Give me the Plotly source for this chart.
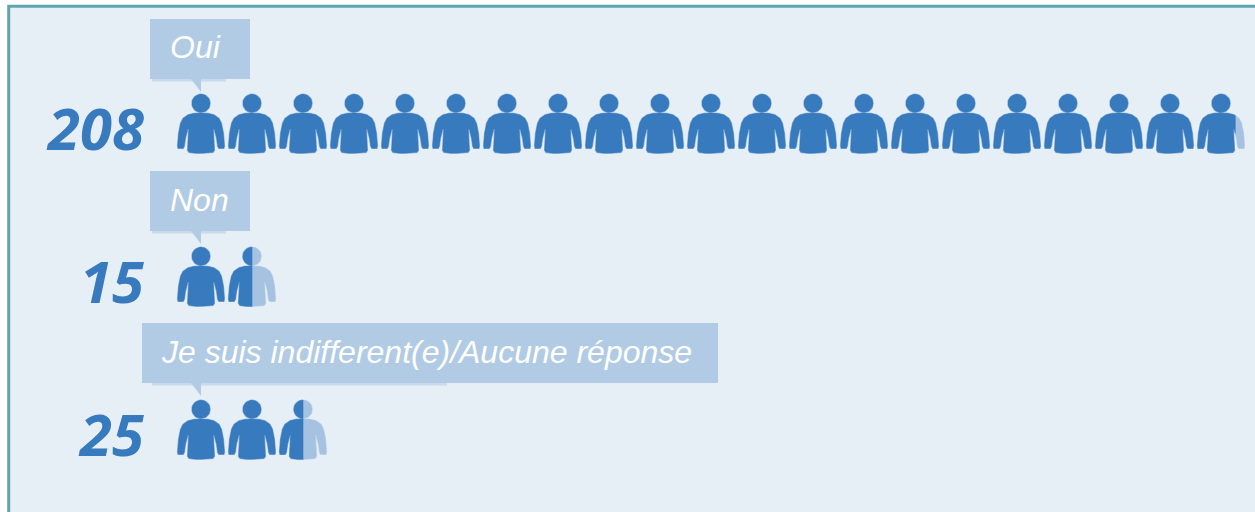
import math
import plotly.graph_objects as go

# Data
categories = ["Oui", "Non", "Je suis indifferent(e)/Aucune réponse"]
values = [208, 15, 25]
value_labels = ["208", "15", "25"]
UNITS_PER_ICON = 10

W, H = 1255, 512
DARK = "#377ABD"
LIGHT = "#A5C2E1"
BG = "#E6EEF6"
BORDER = "#5FA5AF"
BOX = "#B1CBE4"

PITCH = 51.0
ICON_W = 47.5
FIRST_CENTER = 201.0
ROW_STEP = 153.0
X0 = FIRST_CENTER - PITCH / 2

# Pictogram outline in pixels: right half, dx from centre, dy above the feet
HALF_BODY = [(0, 40.2), (7, 40), (13, 38.5), (18, 35), (20.5, 30), (22.5, 20), (23.5, 7.5),
             (23, 4.8), (17.8, 4.8), (16.6, 7), (15.5, 15), (13.2, 24), (12.4, 24),
             (13, 12), (13.5, 3), (12, 0.8), (5, 0), (0, 0)]
BODY = HALF_BODY + [(-dx, dy) for dx, dy in reversed(HALF_BODY[1:-1])]
HEAD = [(9.2 * math.cos(2 * math.pi * k / 32), 50 + 9.2 * math.sin(2 * math.pi * k / 32)) for k in range(32)]


def clip_right(poly, limit):
    """Keep the part of a polygon left of dx = limit."""
    out = []
    for (a, b), (c, d) in zip(poly, poly[1:] + poly[:1]):
        if a <= limit:
            out.append((a, b))
        if (a <= limit) != (c <= limit):
            t = (limit - a) / (c - a)
            out.append((limit, b + t * (d - b)))
    return out


def add_poly(xs, ys, poly, icon, base):
    if not poly:
        return
    pts = poly + poly[:1]
    xs.extend(icon + 0.5 + dx / PITCH for dx, _ in pts)
    ys.extend(base - dy for _, dy in pts)
    xs.append(None)
    ys.append(None)


fig = go.Figure()
for row, value in enumerate(values):
    base = ROW_STEP * (row + 1) + 0.3
    icons = value / UNITS_PER_ICON
    whole = int(icons)
    frac = icons - whole
    dx_lim = -ICON_W / 2 + frac * ICON_W
    dark_x, dark_y, light_x, light_y = [], [], [], []
    for i in range(whole):
        add_poly(dark_x, dark_y, BODY, i, base)
        add_poly(dark_x, dark_y, HEAD, i, base)
    if frac > 0:
        add_poly(light_x, light_y, BODY, whole, base)
        add_poly(light_x, light_y, HEAD, whole, base)
        add_poly(dark_x, dark_y, clip_right(BODY, dx_lim), whole, base)
        add_poly(dark_x, dark_y, clip_right(HEAD, dx_lim), whole, base)
    for xs, ys, col, edge in ((light_x, light_y, LIGHT, "rgba(165,194,225,0.5)"),
                              (dark_x, dark_y, DARK, "rgba(55,122,189,0.5)")):
        if xs:
            fig.add_trace(go.Scatter(x=xs, y=ys, mode="lines", fill="toself", fillcolor=col,
                                     line=dict(color=edge, width=1.2), hoverinfo="skip",
                                     showlegend=False, name=categories[row]))


def px(x):
    return x / W


def py(y):
    return 1 - y / H


def rect(x0, y0, x1, y1, **kw):
    return dict(type="rect", xref="paper", yref="paper", x0=px(x0), x1=px(x1), y0=py(y0), y1=py(y1), **kw)


shapes = [rect(8.7, 6.2, W + 10, H + 10, fillcolor=BG, line=dict(color=BORDER, width=3), layer="below")]
boxes = [(150, 250, 19, 226), (150, 250, 171, 226), (142, 718, 323, 447)]
for (x0, x1, top, strip_x1) in boxes:
    shapes.append(rect(x0, top, x1, top + 60, fillcolor=BOX, line_width=0, layer="below"))
    shapes.append(rect(152, top + 60, strip_x1, top + 62.5, fillcolor="rgba(177,203,228,0.55)",
                       line_width=0, layer="below"))
    yt = top + 60
    shapes.append(dict(type="path", xref="paper", yref="paper", layer="below", fillcolor=BOX, line_width=0,
                       path=f"M{px(191)},{py(yt)} L{px(201)},{py(yt)} L{px(201)},{py(yt + 13)} Z"))

annotations = []
text_x = [168, 168, 159]
text_y = [47, 200, 352]
for row, (cat, lab) in enumerate(zip(categories, value_labels)):
    annotations.append(dict(text=f"<i>{cat}</i>", xref="paper", yref="paper", x=px(text_x[row]), y=py(text_y[row]),
                            xanchor="left", yanchor="middle", showarrow=False,
                            font=dict(family="Liberation Sans", size=32, color="white")))
    annotations.append(dict(text=f"<b><i>{lab}</i></b>", xref="paper", yref="paper", x=px(146),
                            y=py(127.5 + ROW_STEP * row), xanchor="right", yanchor="middle", showarrow=False,
                            font=dict(family="Open Sans", size=58, color=DARK)))

fig.update_layout(
    width=W, height=H, margin=dict(l=0, r=0, t=0, b=0), autosize=False,
    paper_bgcolor="white", plot_bgcolor="rgba(0,0,0,0)",
    xaxis=dict(range=[-X0 / PITCH, (W - X0) / PITCH], visible=False, fixedrange=True),
    yaxis=dict(range=[H, 0], visible=False, fixedrange=True),
    shapes=shapes, annotations=annotations, showlegend=False,
)
fig.write_html("out.html", config={"displayModeBar": False},
               post_script="document.body.style.margin='0';document.body.style.overflow='hidden';")
